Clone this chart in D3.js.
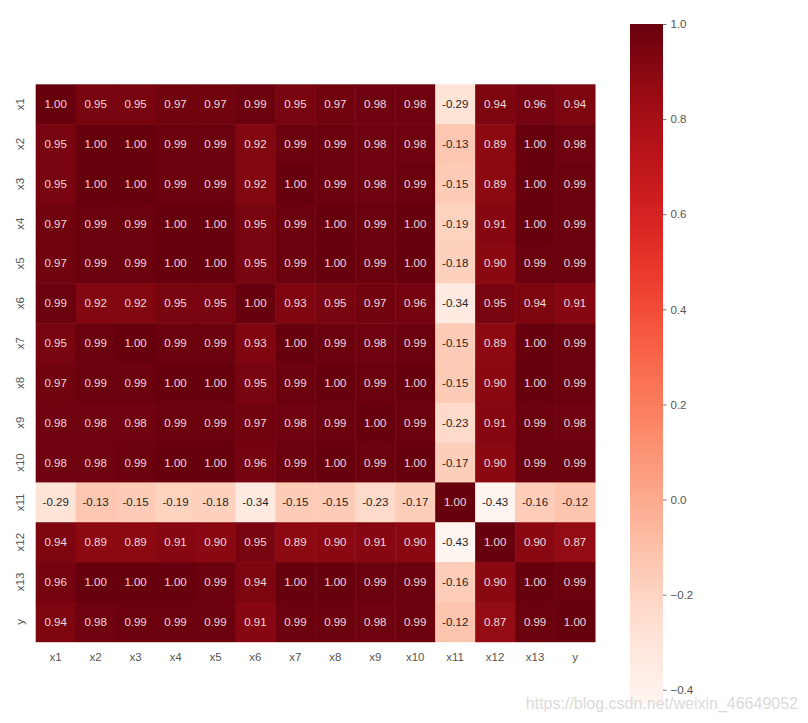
<!DOCTYPE html>
<html><head><meta charset="utf-8">
<script src="https://d3js.org/d3.v7.min.js"></script>
<style>body{margin:0;background:#fff;} svg{display:block;}</style>
</head><body>
<svg id="chart" width="808" height="723"></svg>
<script>
const labels = ["x1","x2","x3","x4","x5","x6","x7","x8","x9","x10","x11","x12","x13","y"];
const rowX1  = [1.00,0.95,0.95,0.97,0.97,0.99,0.95,0.97,0.98,0.98,-0.29,0.94,0.96,0.94];
const rowX2  = [0.95,1.00,1.00,0.99,0.99,0.92,0.99,0.99,0.98,0.98,-0.13,0.89,1.00,0.98];
const rowX3  = [0.95,1.00,1.00,0.99,0.99,0.92,1.00,0.99,0.98,0.99,-0.15,0.89,1.00,0.99];
const rowX4  = [0.97,0.99,0.99,1.00,1.00,0.95,0.99,1.00,0.99,1.00,-0.19,0.91,1.00,0.99];
const rowX5  = [0.97,0.99,0.99,1.00,1.00,0.95,0.99,1.00,0.99,1.00,-0.18,0.90,0.99,0.99];
const rowX6  = [0.99,0.92,0.92,0.95,0.95,1.00,0.93,0.95,0.97,0.96,-0.34,0.95,0.94,0.91];
const rowX7  = [0.95,0.99,1.00,0.99,0.99,0.93,1.00,0.99,0.98,0.99,-0.15,0.89,1.00,0.99];
const rowX8  = [0.97,0.99,0.99,1.00,1.00,0.95,0.99,1.00,0.99,1.00,-0.15,0.90,1.00,0.99];
const rowX9  = [0.98,0.98,0.98,0.99,0.99,0.97,0.98,0.99,1.00,0.99,-0.23,0.91,0.99,0.98];
const rowX10 = [0.98,0.98,0.99,1.00,1.00,0.96,0.99,1.00,0.99,1.00,-0.17,0.90,0.99,0.99];
const rowX11 = [-0.29,-0.13,-0.15,-0.19,-0.18,-0.34,-0.15,-0.15,-0.23,-0.17,1.00,-0.43,-0.16,-0.12];
const rowX12 = [0.94,0.89,0.89,0.91,0.90,0.95,0.89,0.90,0.91,0.90,-0.43,1.00,0.90,0.87];
const rowX13 = [0.96,1.00,1.00,1.00,0.99,0.94,1.00,1.00,0.99,0.99,-0.16,0.90,1.00,0.99];
const rowY   = [0.94,0.98,0.99,0.99,0.99,0.91,0.99,0.99,0.98,0.99,-0.12,0.87,0.99,1.00];
const matrix = [rowX1,rowX2,rowX3,rowX4,rowX5,rowX6,rowX7,rowX8,rowX9,rowX10,rowX11,rowX12,rowX13,rowY];
const cbarTicks = [1.0,0.8,0.6,0.4,0.2,0.0,-0.2,-0.4];
const watermark = "https://blog.csdn.net/weixin_46649052";

const svg = d3.select("#chart");
const font = "'Liberation Sans', Arial, sans-serif";
const vmin = -0.43, vmax = 1.0;
const color = v => d3.interpolateReds((v - vmin) / (vmax - vmin));

const gLeft = 35.7, gTop = 84.3, gRight = 595, gBottom = 641.7;
const x = d3.scaleBand().domain(labels).range([gLeft, gRight]);
const y = d3.scaleBand().domain(labels).range([gTop, gBottom]);

const cells = [];
matrix.forEach((row, i) => row.forEach((v, j) => cells.push({r: labels[i], c: labels[j], v})));

svg.append("g").selectAll("rect").data(cells).join("rect")
  .attr("x", d => x(d.c)).attr("y", d => y(d.r))
  .attr("width", x.bandwidth() + 0.5).attr("height", y.bandwidth() + 0.5)
  .attr("fill", d => color(d.v));

function lum(c) {
  const rgb = d3.rgb(c);
  const f = u => { u /= 255; return u <= 0.03928 ? u / 12.92 : Math.pow((u + 0.055) / 1.055, 2.4); };
  return 0.2126 * f(rgb.r) + 0.7152 * f(rgb.g) + 0.0722 * f(rgb.b);
}

svg.append("g").selectAll("text").data(cells).join("text")
  .attr("x", d => x(d.c) + x.bandwidth() / 2)
  .attr("y", d => y(d.r) + y.bandwidth() / 2)
  .attr("text-anchor", "middle").attr("dominant-baseline", "central")
  .attr("font-family", font).attr("font-size", 11.5)
  .attr("fill", d => lum(color(d.v)) > 0.408 ? "#262626" : "#f0d8d8")
  .text(d => d3.format(".2f")(d.v).replace("\u2212", "-"));

// x tick labels
svg.append("g").selectAll("text").data(labels).join("text")
  .attr("x", d => x(d) + x.bandwidth() / 2).attr("y", 661)
  .attr("text-anchor", "middle").attr("font-family", font).attr("font-size", 11.5)
  .attr("fill", "#555").text(d => d);

// y tick labels (rotated)
svg.append("g").selectAll("text").data(labels).join("text")
  .attr("transform", d => `translate(24,${y(d) + y.bandwidth() / 2}) rotate(-90)`)
  .attr("text-anchor", "middle").attr("font-family", font).attr("font-size", 11.5)
  .attr("fill", "#555").text(d => d);

// colorbar
const cbX = 630, cbW = 33, cbTop = 24, cbBot = 704;
const cs = d3.scaleLinear().domain([vmin, vmax]).range([cbBot, cbTop]);
const defs = svg.append("defs");
const grad = defs.append("linearGradient").attr("id", "cb").attr("x1", 0).attr("y1", 1).attr("x2", 0).attr("y2", 0);
d3.range(0, 1.0001, 0.05).forEach(t => grad.append("stop").attr("offset", t).attr("stop-color", d3.interpolateReds(t)));
svg.append("rect").attr("x", cbX).attr("y", cbTop).attr("width", cbW).attr("height", cbBot - cbTop).attr("fill", "url(#cb)");

const axis = d3.axisRight(cs).tickValues(cbarTicks).tickSize(3.5).tickPadding(4)
  .tickFormat(d => d3.format(".1f")(d));
const ag = svg.append("g").attr("transform", `translate(${cbX + cbW},0)`).call(axis);
ag.select(".domain").remove();
ag.selectAll("line").attr("stroke", "#555").attr("stroke-width", 0.8);
ag.selectAll("text").attr("font-family", font).attr("font-size", 11.5).attr("fill", "#555");

// watermark
svg.append("text").attr("x", 798).attr("y", 709).attr("text-anchor", "end")
  .attr("font-family", font).attr("font-size", 16).attr("fill", "#dadada").text(watermark);
</script>
</body></html>
